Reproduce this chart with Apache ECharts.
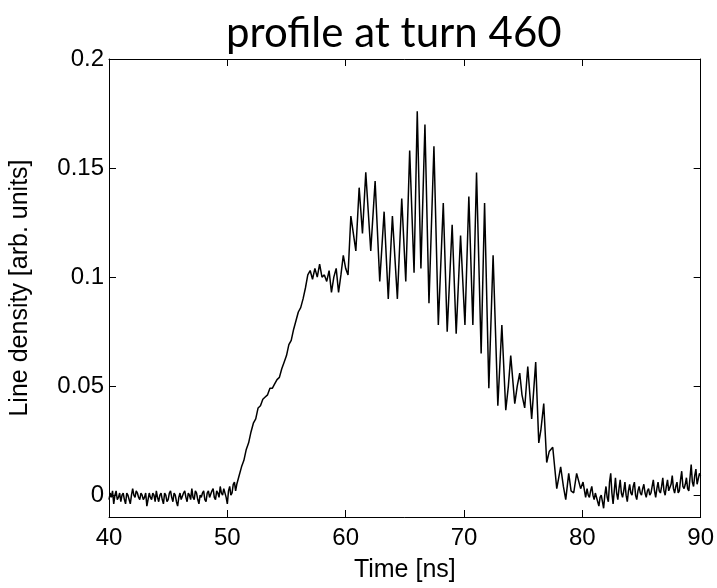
<!DOCTYPE html>
<html>
<head>
<meta charset="utf-8">
<script src="https://cdn.jsdelivr.net/npm/echarts@6/dist/echarts.min.js"></script>
<style>
html,body{margin:0;padding:0;background:#fff;}
#c{width:717px;height:588px;}
</style>
</head>
<body>
<div id="c"></div>
<script>
// Tick values
var xTicks = [40, 50, 60, 70, 80, 90];
var yTicks = [0, 0.05, 0.1, 0.15, 0.2];

// Baseline noise before the bunch (40 - 50.8 ns)
var preTimes = [40.0,40.1,40.2,40.3,40.4,40.5,40.6,40.7,40.8,40.9,
41.0,41.1,41.2,41.3,41.4,41.5,41.6,41.7,41.8,41.9,
42.0,42.1,42.2,42.3,42.4,42.5,42.6,42.7,42.8,42.9,
43.0,43.1,43.2,43.3,43.4,43.5,43.6,43.7,43.8,43.9,
44.0,44.1,44.2,44.3,44.4,44.5,44.6,44.7,44.8,44.9,
45.0,45.1,45.2,45.3,45.4,45.5,45.6,45.7,45.8,45.9,
46.0,46.1,46.2,46.3,46.4,46.5,46.6,46.7,46.8,46.9,
47.0,47.1,47.2,47.3,47.4,47.5,47.6,47.7,47.8,47.9,
48.0,48.1,48.2,48.3,48.4,48.5,48.6,48.7,48.8,48.9,
49.0,49.1,49.2,49.3,49.4,49.5,49.6,49.7,49.8,49.9,
50.0,50.1,50.2,50.3,50.4,50.5,50.6,50.7,50.8];
var preDensity = [-0.002,0.001,-0.001,0.002,-0.004,0.000,0.002,-0.002,-0.001,0.001,
-0.003,0.000,0.001,-0.002,-0.004,0.001,0.000,-0.002,-0.004,0.000,
0.003,0.000,-0.001,0.002,0.001,-0.001,-0.002,0.001,0.000,-0.002,
-0.001,0.001,-0.005,-0.002,0.001,-0.001,-0.002,0.001,0.000,-0.003,
0.002,-0.001,-0.003,0.000,0.001,-0.002,-0.004,0.001,0.000,-0.003,
-0.002,0.001,0.002,-0.001,-0.003,0.001,0.000,-0.003,-0.005,-0.001,
0.001,-0.002,-0.002,0.001,0.002,-0.001,-0.003,0.001,0.000,-0.002,
0.003,-0.001,-0.002,0.002,0.001,-0.002,-0.004,0.000,-0.001,0.001,
0.002,-0.002,-0.003,0.001,0.002,-0.001,-0.001,0.002,0.003,-0.001,
-0.002,0.002,0.001,-0.001,0.004,0.001,0.000,0.003,0.003,-0.001,
-0.004,0.002,0.004,0.000,0.001,0.005,0.006,0.002,0.005];

// Rising edge and plateau (51 - 60.2 ns)
var riseTimes = [51.0,51.2,51.4,51.6,51.8,52.0,52.2,52.4,52.6,52.8,53.0,53.2,53.4,53.6,53.8,54.0,54.2,54.4,54.6,54.8,55.0,55.2,55.4,55.6,55.8,56.0,56.2,56.4,56.6,56.8,57.0,57.2,57.4,57.6,57.8,58.0,58.2,58.4,58.6,58.8,59.0,59.2,59.4,59.6,59.8,60.0,60.2];
var riseDensity = [0.009,0.013,0.016,0.021,0.024,0.029,0.033,0.035,0.040,0.041,0.044,0.045,0.046,0.049,0.049,0.051,0.053,0.054,0.058,0.061,0.064,0.069,0.071,0.076,0.080,0.084,0.086,0.090,0.095,0.101,0.103,0.099,0.104,0.100,0.106,0.100,0.101,0.098,0.103,0.093,0.100,0.104,0.093,0.101,0.110,0.104,0.101];

// Oscillating part and falling edge (peaks / troughs)
var oscTimes = [60.44,60.86,61.14,61.42,61.7,62.12,62.49,62.88,63.25,63.6,63.95,64.37,64.74,65.08,65.41,65.78,66.05,66.36,66.7,67.04,67.46,67.83,68.25,68.58,69.0,69.34,69.71,70.08,70.41,70.75,71.06,71.45,71.74,72.1,72.46,72.86,73.2,73.53,73.75,73.95,74.29,74.5,74.71,74.9,75.13,75.39,75.72,76.06,76.32,76.5,76.74,76.99,77.2,77.5,77.84,78.17,78.4,78.6,78.85,79.05,79.27,79.52,79.86,80.06,80.28];
var oscDensity = [0.128,0.112,0.141,0.120,0.148,0.112,0.144,0.098,0.130,0.090,0.128,0.090,0.136,0.098,0.158,0.102,0.176,0.104,0.170,0.088,0.160,0.078,0.134,0.075,0.124,0.074,0.119,0.078,0.137,0.078,0.148,0.065,0.134,0.049,0.110,0.041,0.078,0.039,0.050,0.064,0.042,0.050,0.056,0.046,0.040,0.059,0.035,0.061,0.024,0.030,0.042,0.015,0.020,0.022,0.003,0.013,0.004,-0.002,0.010,0.002,0.001,0.010,0.003,0.006,-0.001];

// Baseline noise after the bunch (80.4 - 90 ns)
var postTimes = [80.4,80.5,80.6,80.7,80.8,80.9,
81.0,81.1,81.2,81.3,81.4,81.5,81.6,81.7,81.8,81.9,
82.0,82.1,82.2,82.3,82.4,82.5,82.6,82.7,82.8,82.9,
83.0,83.1,83.2,83.3,83.4,83.5,83.6,83.7,83.8,83.9,
84.0,84.1,84.2,84.3,84.4,84.5,84.6,84.7,84.8,84.9,
85.0,85.1,85.2,85.3,85.4,85.5,85.6,85.7,85.8,85.9,
86.0,86.1,86.2,86.3,86.4,86.5,86.6,86.7,86.8,86.9,
87.0,87.1,87.2,87.3,87.4,87.5,87.6,87.7,87.8,87.9,
88.0,88.1,88.2,88.3,88.4,88.5,88.6,88.7,88.8,88.9,
89.0,89.1,89.2,89.3,89.4,89.5,89.6,89.7,89.8,89.9,90.0];
var postDensity = [0.003,0.000,-0.001,0.002,0.004,0.000,
-0.002,0.001,0.001,-0.003,-0.005,-0.001,0.000,-0.003,-0.006,0.000,
0.004,-0.001,-0.003,0.006,0.010,0.001,-0.004,0.002,0.008,0.001,
-0.002,0.003,0.007,0.001,-0.001,0.002,0.006,0.000,-0.003,0.002,
0.005,0.001,0.000,0.004,0.006,0.000,-0.002,0.002,0.004,0.001,
0.000,0.003,0.005,0.001,-0.001,0.002,0.003,0.000,0.001,0.004,
0.007,0.002,-0.001,0.003,0.006,0.002,0.001,0.004,0.008,0.002,
0.000,0.004,0.007,0.002,0.002,0.005,0.009,0.003,0.001,0.004,
0.006,0.001,0.002,0.007,0.011,0.004,0.003,0.005,0.008,0.003,
0.002,0.008,0.014,0.006,0.004,0.009,0.012,0.005,0.005,0.010,0.009];

var times = preTimes.concat(riseTimes, oscTimes, postTimes);
var density = preDensity.concat(riseDensity, oscDensity, postDensity);
var seriesData = times.map(function (t, i) { return [t, density[i]]; });

var labelFont = 'Liberation Sans';
var axisCommon = {
  axisLine: { show: true, onZero: false, lineStyle: { color: '#000', width: 1 } },
  splitLine: { show: false }
};

var chart = echarts.init(document.getElementById('c'), null, { renderer: 'canvas' });
chart.setOption({
  animation: false,
  backgroundColor: '#fff',
  title: {
    text: 'profile at turn 460',
    left: 221, top: 7,
    textStyle: { fontFamily: 'Lato', fontWeight: 'normal', fontSize: 42, color: '#000' }
  },
  grid: { left: 109, right: 15, top: 59, bottom: 67 },
  xAxis: [
    Object.assign({
      type: 'value', min: 40, max: 90, interval: 10, position: 'bottom',
      name: 'Time [ns]', nameLocation: 'middle', nameGap: 41,
      nameTextStyle: { fontFamily: labelFont, fontSize: 25, color: '#000' },
      axisTick: { inside: true, length: 7, lineStyle: { color: '#000' } },
      axisLabel: { fontFamily: labelFont, fontSize: 24, color: '#000', margin: 9 }
    }, axisCommon),
    Object.assign({
      type: 'value', min: 40, max: 90, interval: 10, position: 'top',
      axisTick: { inside: true, length: 7, lineStyle: { color: '#000' } },
      axisLabel: { show: false }
    }, axisCommon)
  ],
  yAxis: [
    Object.assign({
      type: 'value', min: -0.01, max: 0.2, position: 'left',
      name: 'Line density [arb. units]', nameLocation: 'middle', nameGap: 76,
      nameTextStyle: { fontFamily: labelFont, fontSize: 25, color: '#000' },
      axisTick: { inside: true, length: 7, customValues: yTicks, lineStyle: { color: '#000' } },
      axisLabel: { fontFamily: labelFont, fontSize: 24, color: '#000', margin: 5, customValues: yTicks }
    }, axisCommon),
    Object.assign({
      type: 'value', min: -0.01, max: 0.2, position: 'right',
      axisTick: { inside: true, length: 7, customValues: yTicks, lineStyle: { color: '#000' } },
      axisLabel: { show: false, customValues: yTicks }
    }, axisCommon)
  ],
  series: [{
    type: 'line',
    data: seriesData,
    xAxisIndex: 0, yAxisIndex: 0,
    showSymbol: false,
    symbol: 'none',
    lineStyle: { color: '#000', width: 1.5 },
    silent: true
  }]
});
</script>
</body>
</html>
